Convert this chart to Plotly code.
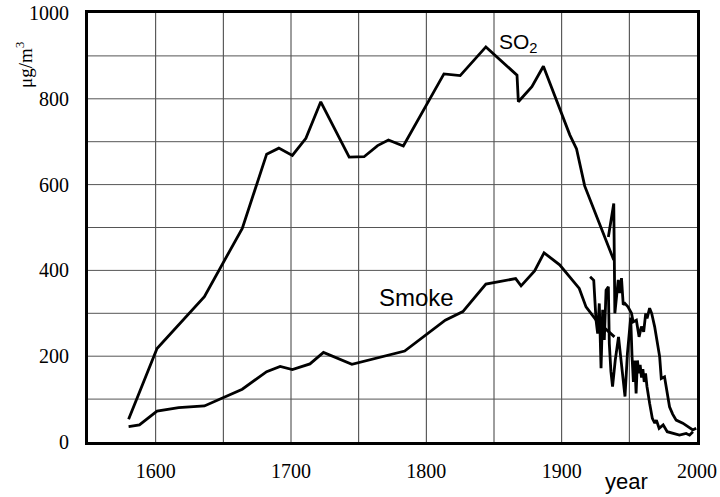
import plotly.graph_objects as go

# ---- data ----
so2_hist_years = [1580, 1601, 1636, 1664, 1682, 1691, 1701, 1711, 1722, 1743, 1754, 1764,
                  1772, 1783, 1813, 1825, 1844, 1867, 1868, 1878, 1886.5, 1906, 1911,
                  1917, 1938.5]
so2_hist_vals = [53, 218, 339, 498, 671, 685, 668, 708, 793, 664, 665, 691,
                 704, 690, 858, 854, 921, 855, 793, 828, 876, 716, 683,
                 597, 424]

so2_meas_years = [1934.5, 1938.5, 1939.3, 1940.5, 1941.8, 1943, 1944.2, 1945.5, 1946.7,
                  1949, 1951.6, 1952.8, 1955.2, 1957.2, 1958.9, 1960.6, 1962.1, 1963.1,
                  1965, 1966.5, 1968.7, 1972.4, 1973.6, 1976, 1979.7, 1982, 1984.6,
                  1989.5, 1993.2, 1996.9, 1999.4]
so2_meas_vals = [478, 556, 300, 340, 378, 347, 382, 320, 323,
                 315, 300, 280, 284, 245, 269, 257, 300, 288,
                 312, 300, 269, 199, 148, 152, 82, 65, 51,
                 44, 36, 28, 32]

smoke_hist_years = [1580, 1588, 1601, 1617, 1636, 1664, 1682, 1692, 1701, 1714, 1724,
                    1745, 1784, 1814, 1827, 1844, 1866, 1870, 1880, 1887, 1898.5,
                    1913, 1918, 1926, 1939]
smoke_hist_vals = [36, 40, 72, 80, 84, 123, 164, 176, 169, 182, 209,
                   181, 212, 284, 304, 368, 381, 364, 399, 441, 413,
                   358, 315, 282, 245]

smoke_meas_years = [1921, 1923.7, 1925.4, 1926.6, 1927.8, 1929.1, 1930.3, 1931.5, 1932.8,
                    1934.5, 1935.2, 1936.4, 1937.6, 1939.6, 1942, 1943.7, 1944.9, 1946.8,
                    1948.6, 1950, 1951, 1952, 1953, 1954, 1955, 1956, 1957, 1958, 1959,
                    1960, 1961, 1962, 1963, 1965, 1967, 1968.8, 1970, 1972, 1975, 1978,
                    1982, 1987, 1992, 1994.5, 1997]
smoke_meas_vals = [385, 377, 284, 253, 323, 172, 308, 238, 354,
                   362, 230, 164, 129, 191, 245, 199, 160, 106,
                   207, 261, 290, 200, 140, 190, 113, 190, 160, 180, 150,
                   170, 140, 160, 130, 90, 55, 44, 51, 32, 40, 24,
                   20, 16, 20, 16, 24]

# gridline positions and their labels (blank = gridline only)
x_grid = [1550, 1600, 1650, 1700, 1750, 1800, 1850, 1900, 1950, 2000]
x_labels = ["", "1600", "", "1700", "", "1800", "", "1900", "", "2000"]
y_grid = [0, 100, 200, 300, 400, 500, 600, 700, 800, 900, 1000]
y_labels = ["0", "", "200", "", "400", "", "600", "", "800", "", "1000"]

# ---- figure ----
fig = go.Figure()
line_style = dict(color="black", width=2.8)
for xs, ys in [(so2_hist_years, so2_hist_vals), (so2_meas_years, so2_meas_vals),
               (smoke_hist_years, smoke_hist_vals), (smoke_meas_years, smoke_meas_vals)]:
    fig.add_trace(go.Scatter(x=xs, y=ys, mode="lines", line=line_style,
                             showlegend=False, hoverinfo="skip"))

grid_col = "rgb(60,60,60)"
serif = "Liberation Serif"
sans = "Liberation Sans"

# gridlines drawn below the traces at the axis' own grid positions
grid_shapes = []
for gx in x_grid[1:-1]:
    grid_shapes.append(dict(type="line", xref="x", yref="paper", x0=gx, x1=gx, y0=0, y1=1,
                            line=dict(color=grid_col, width=1), layer="below"))
for gy in y_grid[1:-1]:
    grid_shapes.append(dict(type="line", xref="paper", yref="y", x0=0, x1=1, y0=gy, y1=gy,
                            line=dict(color="rgb(85,85,85)", width=1), layer="below"))

fig.update_layout(
    width=720, height=497,
    margin=dict(l=88, r=23, t=13, b=55, autoexpand=False),
    paper_bgcolor="white", plot_bgcolor="white",
    shapes=grid_shapes,
    xaxis=dict(
        range=[1550, 2000], tickmode="array", tickvals=x_grid, ticktext=x_labels,
        showgrid=False,
        showline=True, linecolor="black", linewidth=3, mirror=True,
        ticks="", zeroline=False, ticklabelstandoff=9, automargin=False,
        tickfont=dict(family=serif, size=20, color="black"),
    ),
    yaxis=dict(
        range=[0, 1000], tickmode="array", tickvals=y_grid, ticktext=y_labels,
        showgrid=False,
        showline=True, linecolor="black", linewidth=3, mirror=True,
        ticks="", zeroline=False, ticklabelstandoff=12, automargin=False,
        tickfont=dict(family=serif, size=20, color="black"),
    ),
    annotations=[
        dict(text="year", xref="paper", yref="paper", x=0.885, y=-0.093,
             showarrow=False, xanchor="center", yanchor="middle",
             font=dict(family=sans, size=22, color="black")),
        dict(text="μg/m<sup>3</sup>", xref="paper", yref="paper", x=-0.105, y=0.879,
             showarrow=False, textangle=-90, xanchor="center", yanchor="middle",
             font=dict(family=serif, size=19, color="black")),
        dict(text="SO<sub>2</sub>", xref="x", yref="y", x=1868, y=930,
             showarrow=False, xanchor="center", yanchor="middle",
             font=dict(family=sans, size=21, color="black")),
        dict(text="Smoke", xref="x", yref="y", x=1793, y=336,
             showarrow=False, xanchor="center", yanchor="middle",
             font=dict(family=sans, size=24, color="black")),
    ],
)

fig.write_html("out.html")
